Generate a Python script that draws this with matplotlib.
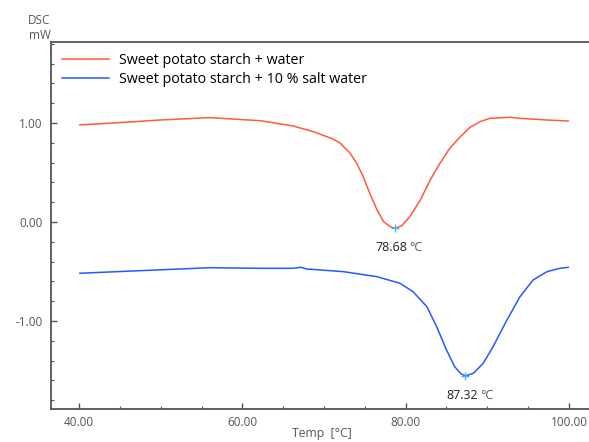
import numpy as np
import matplotlib.pyplot as plt

# DSC traces (temperature in °C, heat flow in mW)
temp_water = [40.1, 46.2, 49.9, 56.0, 62.2, 66.2, 68.7, 71.1, 72.0, 73.2, 74.0, 74.8, 75.6,
              76.5, 77.3, 78.1, 78.68, 79.5, 80.5, 81.8, 83.0, 84.2, 85.4, 86.7, 87.9,
              89.1, 90.3, 92.8, 94.0, 97.3, 99.9]
dsc_water = [0.980, 1.010, 1.030, 1.054, 1.023, 0.970, 0.912, 0.838, 0.795, 0.694, 0.593,
             0.458, 0.290, 0.121, 0.003, -0.047, -0.064, -0.040, 0.054, 0.222, 0.424, 0.593,
             0.744, 0.862, 0.957, 1.013, 1.047, 1.058, 1.047, 1.030, 1.020]

temp_salt = [40.1, 47.5, 56.0, 62.2, 66.2, 67.15, 67.9, 72.4, 76.5, 79.3, 80.9, 82.6, 83.8,
             85.0, 86.0, 86.8, 87.32, 88.3, 89.5, 90.7, 92.4, 94.0, 95.6, 97.3, 98.9, 99.9]
dsc_salt = [-0.518, -0.492, -0.462, -0.468, -0.468, -0.458, -0.475, -0.502, -0.553, -0.619,
            -0.704, -0.856, -1.058, -1.293, -1.462, -1.535, -1.556, -1.528, -1.427, -1.260,
            -0.990, -0.755, -0.586, -0.502, -0.468, -0.458]

peaks = [(78.68, -0.064), (87.32, -1.556)]
labels = ["Sweet potato starch + water", "Sweet potato starch + 10 % salt water"]
colors = ["#ff5a3a", "#2459ff"]

plt.rcParams['font.family'] = ['Open Sans', 'DejaVu Sans']

fig = plt.figure(figsize=(5.89, 4.42), dpi=100)
ax = fig.add_axes([0.0866, 0.0747, 0.9134, 0.8303])

ax.plot(temp_water, dsc_water, color=colors[0], lw=1.1, label=labels[0],
        solid_joinstyle='round')
ax.plot(temp_salt, dsc_salt, color=colors[1], lw=1.1, label=labels[1],
        solid_joinstyle='round')

# peak markers with temperature labels
for px, py in peaks:
    ax.plot(px, py, marker='+', color='#44bbee', ms=6, mew=1.0)
    ax.annotate(f"{px:.2f}", (px, py), xytext=(-14, -9), textcoords='offset points',
                ha='left', va='top', fontsize=9, color='#222222')
    ax.annotate("°C", (px, py), xytext=(10.5, -9), textcoords='offset points',
                ha='left', va='top', fontsize=9, color='#555555')

ax.set_xlim(36.57, 102.45)
ax.set_ylim(-1.889, 1.818)
ax.set_xticks([40, 60, 80, 100])
ax.set_xticks(np.arange(40, 101, 5), minor=True)
ax.set_yticks([-1, 0, 1])
ax.set_yticks(np.arange(-1.8, 1.81, 0.2), minor=True)
ax.xaxis.set_major_formatter(lambda v, p: f"{v:.2f}")
ax.yaxis.set_major_formatter(lambda v, p: f"{v:.2f}")

ax.tick_params(which='both', direction='in', colors='#555555', labelsize=8.5,
               labelcolor='#555555')
ax.tick_params(which='major', length=4, width=1)
ax.tick_params(which='minor', length=2.5, width=0.8)
ax.tick_params(axis='x', pad=5)
ax.tick_params(axis='y', pad=6)

ax.spines['right'].set_visible(False)
for s in ['left', 'bottom', 'top']:
    ax.spines[s].set_color('#555555')
    ax.spines[s].set_linewidth(1.3)

ax.legend(loc='upper left', frameon=False, fontsize=10.3, handlelength=3.3,
          handletextpad=0.7, borderaxespad=0.25, labelspacing=0.32, borderpad=0.5)

fig.text(0.086, 0.905, "DSC\nmW", ha='right', va='bottom', fontsize=8.5, color='#555555',
         linespacing=1.15)
fig.text(0.547, 0.004, "Temp  [°C]", ha='center', va='bottom', fontsize=8.8, color='#555555')

fig.savefig("out.png", dpi=100)
